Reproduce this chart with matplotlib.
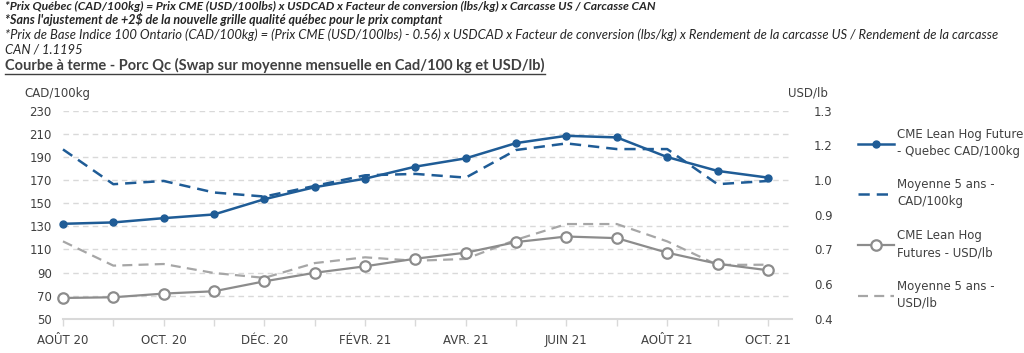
import matplotlib.pyplot as plt
import numpy as np

# data
months = ["AOÛT 20", "SEPT. 20", "OCT. 20", "NOV. 20", "DÉC. 20", "JANV. 21", "FÉVR. 21",
          "MARS 21", "AVR. 21", "MAI 21", "JUIN 21", "JUIL. 21", "AOÛT 21", "SEPT. 21", "OCT. 21"]
qc_cad = [132.2, 133.4, 137.1, 140.3, 153.5, 163.9, 171.3, 181.7, 188.9, 202.1, 208.4, 207.0, 190.0, 178.0, 172.2]
avg5_cad = [196.6, 166.5, 169.3, 159.3, 155.8, 165.0, 174.2, 175.4, 172.2, 196.1, 201.8, 196.9, 196.9, 166.5, 169.3]
cme_usd = [0.490, 0.493, 0.509, 0.519, 0.562, 0.599, 0.627, 0.660, 0.686, 0.732, 0.756, 0.749, 0.686, 0.638, 0.610]
avg5_usd = [0.735, 0.630, 0.637, 0.598, 0.577, 0.641, 0.666, 0.651, 0.659, 0.742, 0.810, 0.810, 0.735, 0.633, 0.634]

left_ticks = [50, 70, 90, 110, 130, 150, 170, 190, 210, 230]
right_ticks = [0.4, 0.55, 0.7, 0.85, 1.0, 1.15, 1.3]
right_labels = ["0.4", "0.6", "0.7", "0.9", "1.0", "1.2", "1.3"]

blue = '#1f5c96'
gray = '#8c8c8c'
gray2 = '#a6a6a6'
txt = '#404040'

plt.rcParams['font.family'] = 'DejaVu Sans'

fig = plt.figure(figsize=(10.24, 3.53), dpi=100)
ax = fig.add_axes([0.0615, 0.097, 0.7115, 0.589])
ax2 = ax.twinx()

x = np.arange(len(months))

l1, = ax.plot(x, qc_cad, color=blue, lw=1.8, marker='o', ms=5, clip_on=False, zorder=4,
              label="CME Lean Hog Future\n- Quebec CAD/100kg")
l2, = ax.plot(x, avg5_cad, color=blue, lw=1.8, ls=(0, (4.5, 2.8)), clip_on=False, zorder=3,
              label="Moyenne 5 ans -\nCAD/100kg")
l3, = ax2.plot(x, cme_usd, color=gray, lw=1.6, marker='o', ms=7.5, mfc='white', mec=gray, mew=1.6,
               clip_on=False, zorder=4, label="CME Lean Hog\nFutures - USD/lb")
l4, = ax2.plot(x, avg5_usd, color=gray2, lw=1.6, ls=(0, (4.5, 2.8)), clip_on=False, zorder=3,
               label="Moyenne 5 ans -\nUSD/lb")

ax.set_xlim(0, 14.47)
ax.set_ylim(50, 230)
ax2.set_ylim(0.4, 1.3)

ax.set_yticks(left_ticks)
ax.set_yticklabels([str(v) for v in left_ticks])
ax2.set_yticks(right_ticks)
ax2.set_yticklabels(right_labels)

ax.set_xticks(x)
ax.set_xticklabels([m if i % 2 == 0 else "" for i, m in enumerate(months)])

for a in (ax, ax2):
    for s in a.spines.values():
        s.set_visible(False)
ax.spines['bottom'].set_visible(True)
ax.spines['bottom'].set_color('#d9d9d9')
ax.spines['bottom'].set_linewidth(1.5)

ax.grid(axis='y', color='#d9d9d9', ls=(0, (4, 3)), lw=1)
ax.set_axisbelow(True)
ax.tick_params(axis='y', length=0, pad=8, labelsize=8.5, labelcolor=txt)
ax2.tick_params(axis='y', length=0, pad=16, labelsize=8.5, labelcolor=txt)
ax.tick_params(axis='x', length=5, color='#d9d9d9', width=1, pad=6, labelsize=8.5, labelcolor=txt)

fig.text(0.024, 0.736, "CAD/100kg", fontsize=8.5, color=txt, va='center')
fig.text(0.770, 0.736, "USD/lb", fontsize=8.5, color=txt, va='center')

leg = fig.legend(handles=[l1, l2, l3, l4], loc='upper left', bbox_to_anchor=(0.828, 0.668),
                 frameon=False, fontsize=8.5, labelcolor=txt, handlelength=3.0, handletextpad=0.3,
                 labelspacing=1.75)
for t in leg.get_texts():
    t.set_linespacing(1.4)

# header notes
hfont = 'Lato'
fig.text(0.005, 0.983, "*Prix Québec (CAD/100kg) = Prix CME (USD/100lbs) x USDCAD x Facteur de conversion (lbs/kg) x Carcasse US / Carcasse CAN",
         fontsize=8.75, style='italic', weight='bold', color='#262626', family=hfont, va='center')
fig.text(0.005, 0.946, "*Sans l'ajustement de +2$ de la nouvelle grille qualité québec pour le prix comptant",
         fontsize=9.0, style='italic', weight='bold', color='#262626', family=hfont, va='center')
fig.text(0.005, 0.901, "*Prix de Base Indice 100 Ontario (CAD/100kg) = (Prix CME (USD/100lbs) - 0.56) x USDCAD x Facteur de conversion (lbs/kg) x Rendement de la carcasse US / Rendement de la carcasse",
         fontsize=9.4, style='italic', color='#262626', family=hfont, va='center')
fig.text(0.005, 0.861, "CAN / 1.1195",
         fontsize=9.4, style='italic', color='#262626', family=hfont, va='center')
title = fig.text(0.005, 0.815, "Courbe à terme - Porc Qc (Swap sur moyenne mensuelle en Cad/100 kg et USD/lb)",
                 fontsize=10.5, weight='bold', color=txt, family=hfont, va='center')

# underline the title
fig.canvas.draw()
bb = title.get_window_extent().transformed(fig.transFigure.inverted())
fig.add_artist(plt.Line2D([bb.x0, bb.x1], [bb.y0 - 0.004, bb.y0 - 0.004], color=txt, lw=1,
                          transform=fig.transFigure))

fig.savefig("out.png", dpi=100)
